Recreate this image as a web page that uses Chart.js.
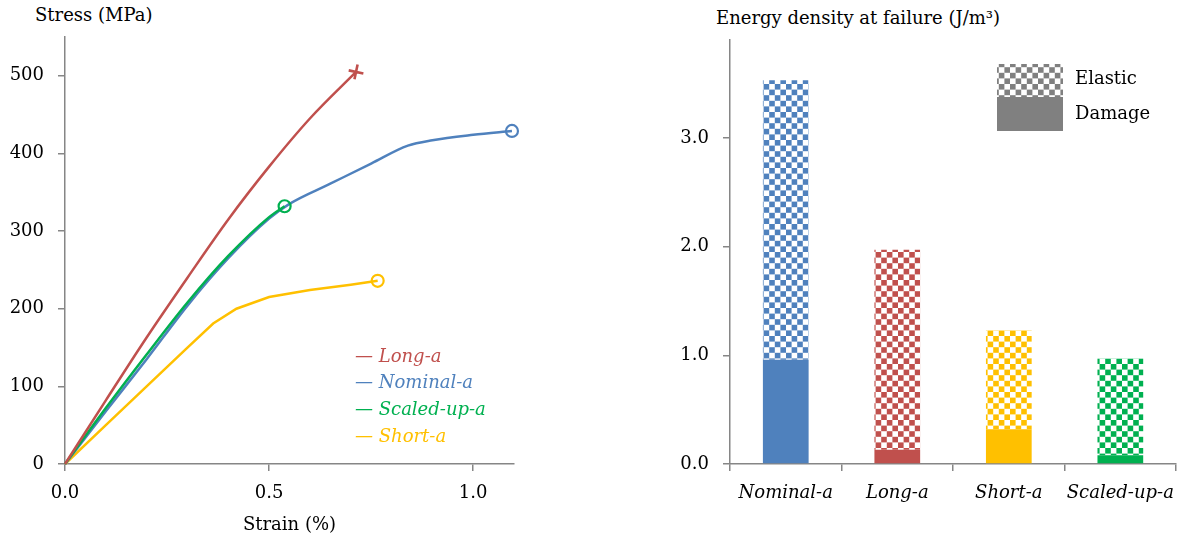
<!DOCTYPE html>
<html>
<head>
<meta charset="utf-8">
<script src="https://cdn.jsdelivr.net/npm/chart.js@4.4.0/dist/chart.umd.min.js"></script>
<style>
  body { margin: 0; background: #fff; width: 1187px; height: 540px; position: relative; overflow: hidden; font-family: "DejaVu Serif", serif; }
  .panel { position: absolute; top: 0; height: 540px; }
  #left { left: 0; width: 590px; }
  #right { left: 590px; width: 597px; }
  .title { position: absolute; font-size: 18px; line-height: 18px; color: #000; white-space: nowrap; }
</style>
</head>
<body>
<div class="title" style="left:35px; top:6px;">Stress (MPa)</div>
<div class="title" style="left:716px; top:9px;">Energy density at failure (J/m³)</div>
<div class="panel" id="left"><canvas id="stressChart"></canvas></div>
<div class="panel" id="right"><canvas id="energyChart"></canvas></div>
<script>
// stress-strain curves (strain in %, stress in MPa)
const strainLong = [0, 0.1, 0.2, 0.3, 0.4, 0.5, 0.6, 0.713];
const stressLong = [0, 82, 163, 240, 315, 383, 445, 505];

const strainNominal = [0, 0.1, 0.2, 0.3, 0.4, 0.5, 0.55, 0.65, 0.75, 0.84, 0.9, 1.0, 1.095];
const stressNominal = [0, 68, 135, 204, 265, 316, 335, 361, 387, 410, 417, 424, 429];

const strainScaled = [0, 0.1, 0.2, 0.3, 0.4, 0.5, 0.538];
const stressScaled = [0, 72, 141, 208, 268, 318, 332];

const strainShort = [0, 0.1, 0.2, 0.3, 0.363, 0.42, 0.5, 0.6, 0.7, 0.766];
const stressShort = [0, 50, 100, 150, 181, 200, 215, 224, 231, 236];

// energy density at failure (J/m3)
const specimens = ['Nominal-a', 'Long-a', 'Short-a', 'Scaled-up-a'];
const damageEnergy = [0.96, 0.13, 0.32, 0.08];
const elasticEnergy = [2.57, 1.84, 0.91, 0.89];

const legendNames = ['Long-a', 'Nominal-a', 'Scaled-up-a', 'Short-a'];

const colors = {
  'Long-a': '#c0504d',
  'Nominal-a': '#4f81bd',
  'Scaled-up-a': '#00b050',
  'Short-a': '#ffc000'
};
const axisColor = '#868686';
const family = '"DejaVu Serif", serif';
const tickFont = { family: family, size: 18 };
const italicFont = { family: family, size: 18, style: 'italic' };

Chart.defaults.font.family = family;
Chart.defaults.color = '#000';

function points(xs, ys) {
  return xs.map((x, i) => ({ x: x, y: ys[i] }));
}

function checker(color) {
  const c = document.createElement('canvas');
  c.width = c.height = 56;
  const g = c.getContext('2d');
  g.fillStyle = '#fff';
  g.fillRect(0, 0, 56, 56);
  g.fillStyle = color;
  const s = 5.6;
  for (let i = 0; i < 10; i++) {
    for (let j = 0; j < 10; j++) {
      if ((i + j) % 2 === 0) g.fillRect(i * s, j * s, s, s);
    }
  }
  return g.createPattern(c, 'repeat');
}

function curve(name, xs, ys, marker, smooth) {
  const isCross = marker === 'cross';
  return {
    label: name,
    data: points(xs, ys),
    showLine: true,
    clip: false,
    borderColor: colors[name],
    borderWidth: 2.5,
    cubicInterpolationMode: smooth ? 'monotone' : 'default',
    tension: 0,
    pointStyle: marker,
    pointRotation: isCross ? 12 : 0,
    pointRadius: ctx => ctx.dataIndex === ctx.dataset.data.length - 1 ? (isCross ? 7.5 : 6) : 0,
    pointBorderWidth: isCross ? 2.6 : 2.2,
    pointBorderColor: colors[name],
    pointBackgroundColor: 'rgba(0,0,0,0)'
  };
}

const axisGrid = { drawOnChartArea: false, color: axisColor, lineWidth: 1.5 };
const axisBorder = { color: axisColor, width: 1.5 };

const stressLegend = {
  id: 'stressLegend',
  afterDraw(chart) {
    const ctx = chart.ctx;
    ctx.save();
    ctx.font = 'italic 18px ' + family;
    ctx.textBaseline = 'middle';
    legendNames.forEach((name, i) => {
      ctx.fillStyle = colors[name];
      ctx.fillText('\u2014 ' + name, 355, 357 + i * 26.7);
    });
    ctx.restore();
  }
};

new Chart(document.getElementById('stressChart'), {
  type: 'scatter',
  data: {
    datasets: [
      curve('Long-a', strainLong, stressLong, 'cross', true),
      curve('Scaled-up-a', strainScaled, stressScaled, 'circle', true),
      curve('Nominal-a', strainNominal, stressNominal, 'circle', true),
      curve('Short-a', strainShort, stressShort, 'circle', false)
    ]
  },
  options: {
    responsive: true,
    maintainAspectRatio: false,
    animation: false,
    layout: { padding: { top: 37, right: 76, bottom: 0, left: 0 } },
    plugins: { legend: { display: false }, tooltip: { enabled: false } },
    scales: {
      x: {
        type: 'linear', min: 0, max: 1.1,
        ticks: { stepSize: 0.5, includeBounds: false, font: tickFont, color: '#000', padding: 12,
                 callback: v => v.toFixed(1) },
        grid: Object.assign({ tickLength: 7 }, axisGrid),
        border: axisBorder,
        title: { display: true, text: 'Strain (%)', font: tickFont, color: '#000', padding: { top: 3 } },
        afterFit: s => { s.height = 76; }
      },
      y: {
        min: 0, max: 550,
        ticks: { stepSize: 100, includeBounds: false, font: tickFont, color: '#000', padding: 14 },
        grid: Object.assign({ tickLength: 7 }, axisGrid),
        border: axisBorder,
        afterFit: s => { s.width = 65; }
      }
    }
  },
  plugins: [stressLegend]
});

const grayChecker = checker('#808080');

const energyLegend = {
  id: 'energyLegend',
  afterDraw(chart) {
    const ctx = chart.ctx;
    ctx.save();
    ctx.fillStyle = grayChecker;
    ctx.fillRect(407, 64, 66, 33);
    ctx.fillStyle = '#808080';
    ctx.fillRect(407, 97, 66, 34);
    ctx.fillStyle = '#000';
    ctx.font = '18px ' + family;
    ctx.textBaseline = 'middle';
    ctx.fillText('Elastic', 485, 79);
    ctx.fillText('Damage', 485, 114);
    ctx.restore();
  }
};

const barColors = specimens.map(s => colors[s]);

new Chart(document.getElementById('energyChart'), {
  type: 'bar',
  data: {
    labels: specimens,
    datasets: [
      { label: 'Damage', data: damageEnergy, backgroundColor: barColors,
        barPercentage: 0.41, categoryPercentage: 1 },
      { label: 'Elastic', data: elasticEnergy, backgroundColor: barColors.map(c => checker(c)),
        barPercentage: 0.41, categoryPercentage: 1 }
    ]
  },
  options: {
    responsive: true,
    maintainAspectRatio: false,
    animation: false,
    layout: { padding: { top: 40, right: 9, bottom: 0, left: 0 } },
    plugins: { legend: { display: false }, tooltip: { enabled: false } },
    scales: {
      x: {
        stacked: true,
        ticks: { font: italicFont, color: '#000', padding: 12, autoSkip: false, maxRotation: 0, minRotation: 0 },
        grid: Object.assign({ tickLength: 7, offset: true }, axisGrid),
        border: axisBorder,
        afterFit: s => { s.height = 76; }
      },
      y: {
        stacked: true, min: 0, max: 3.9,
        ticks: { stepSize: 1, includeBounds: false, font: tickFont, color: '#000', padding: 14,
                 callback: v => v.toFixed(1) },
        grid: Object.assign({ tickLength: 7 }, axisGrid),
        border: axisBorder,
        afterFit: s => { s.width = 140; }
      }
    }
  },
  plugins: [energyLegend]
});
</script>
</body>
</html>
